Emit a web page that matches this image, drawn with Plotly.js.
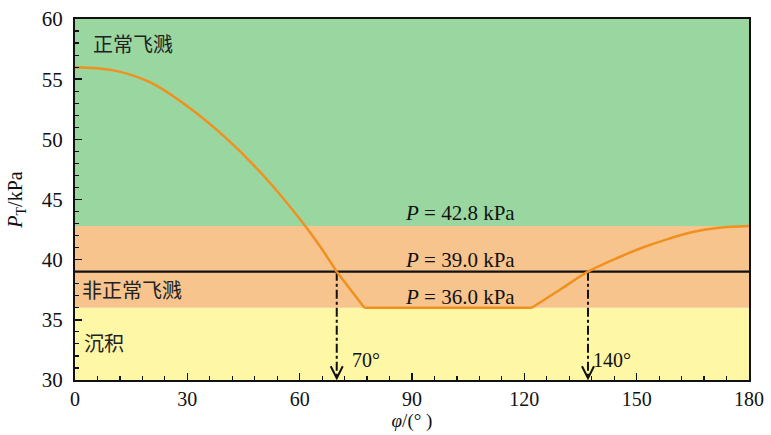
<!DOCTYPE html>
<html><head><meta charset="utf-8">
<script src="https://cdn.plot.ly/plotly-3.0.1.min.js"></script>
<style>html,body{margin:0;padding:0;background:#fff}</style>
</head><body>
<div id="chart" style="width:771px;height:435px"></div>
<script>
// Curve P_T vs phi
const phi = [0, 10, 20, 30, 40, 50, 60, 65, 69.9, 77.3, 122, 130, 137, 145.3, 152, 158.7, 165, 172, 180];
const pT  = [56, 55.75, 54.75, 52.75, 50.2, 47.1, 43.4, 41.3, 39.0, 36.0, 36.0, 37.6, 39.0, 40.2, 41.05, 41.75, 42.3, 42.65, 42.8];
// index ranges of the curve pieces: falling curve, flat bottom, rising curve
const pieceStart = [0, 8, 9, 10];
const pieceEnd   = [8, 9, 10, 18];
const pieceShape = ['spline', 'linear', 'linear', 'spline'];

// Region bands [low, high]
const bandLow  = [30, 36, 42.8];
const bandHigh = [36, 42.8, 60];
const bandColors = ['#fef7a6', '#f8c48e', '#9ad6a0'];
const regionNames = ['沉积', '非正常飞溅', '正常飞溅'];
const regionX = [1.8, 1.3, 4.4];
const regionY = [33.1, 37.5, 58.0];

// Threshold line
const thresholdP = 39.0;
const pLabels = ['<i>P</i> = 42.8 kPa', '<i>P</i> = 39.0 kPa', '<i>P</i> = 36.0 kPa'];
const pLabelY = [43.9, 40.0, 36.9];
const pLabelX = 102.9;

// Critical angles (arrow positions) and labels
const critX = [69.9, 137];
const critLabels = ['70°', '140°'];

const xTicks = [0, 30, 60, 90, 120, 150, 180];
const yTicks = [30, 35, 40, 45, 50, 55, 60];

const serif = 'Liberation Serif, Times New Roman, serif';
const cjk = 'Noto Sans CJK SC, sans-serif';

const traces = [];
critX.forEach(function(cx){
  traces.push({x:[cx, cx], y:[thresholdP, 30.25], mode:'lines', type:'scatter',
    line:{color:'#111', width:2, dash:'dashdot'}, hoverinfo:'skip', showlegend:false});
});
traces.push({x:[0,180], y:[thresholdP, thresholdP], mode:'lines', type:'scatter',
  line:{color:'#111', width:2.2}, showlegend:false, hoverinfo:'skip'});
pieceStart.forEach(function(s, i){
  traces.push({x:phi.slice(s, pieceEnd[i]+1), y:pT.slice(s, pieceEnd[i]+1), mode:'lines', type:'scatter',
    line:{color:'#f0901e', width:2.5, shape:pieceShape[i], smoothing:1}, showlegend:false});
});

const shapes = bandLow.map(function(lo, i){
  return {type:'rect', xref:'paper', yref:'y', x0:0, x1:1, y0:lo, y1:bandHigh[i],
    fillcolor:bandColors[i], line:{width:0}, layer:'below'};
});
critX.forEach(function(cx){
  shapes.push({type:'path', xref:'x', yref:'y', xsizemode:'pixel', ysizemode:'pixel',
    xanchor:cx, yanchor:30.15, path:'M -6 12 L 0 0 L 6 12',
    line:{color:'#111', width:2}, layer:'above'});
});

const annotations = [];
regionNames.forEach(function(t, i){
  annotations.push({x:regionX[i], y:regionY[i], xref:'x', yref:'y', text:t, showarrow:false,
    xanchor:'left', yanchor:'middle', font:{family:cjk, size:20, color:'#222'}});
});
pLabels.forEach(function(t, i){
  annotations.push({x:pLabelX, y:pLabelY[i], xref:'x', yref:'y', text:t, showarrow:false,
    xanchor:'center', yanchor:'middle', font:{family:serif, size:21, color:'#111'}});
});
critLabels.forEach(function(t, i){
  annotations.push({x:critX[i] + (i===0 ? 3.5 : 0.8), y:31.7, xref:'x', yref:'y', text:t, showarrow:false,
    xanchor:'left', yanchor:'middle', font:{family:serif, size:20, color:'#111'}});
});

const layout = {
  width:771, height:435,
  margin:{l:75, r:22, t:19, b:55},
  paper_bgcolor:'#fff', plot_bgcolor:'#fff',
  showlegend:false,
  xaxis:{range:[0,180], tickvals:xTicks, ticks:'inside', ticklen:7, tickwidth:1.5, tickcolor:'#111',
    showgrid:false, zeroline:false, showline:true, linecolor:'#111', linewidth:2, mirror:true,
    minor:{dtick:6, ticks:'inside', ticklen:4, tickwidth:1.2, tickcolor:'#111', showgrid:false},
    tickfont:{family:serif, size:20, color:'#111'},
    title:{text:'<i>φ</i>/(° )', font:{family:serif, size:19, color:'#111'}, standoff:2}},
  yaxis:{range:[30,60], tickvals:yTicks, ticks:'inside', ticklen:7, tickwidth:1.5, tickcolor:'#111',
    showgrid:false, zeroline:false, showline:true, linecolor:'#111', linewidth:2, mirror:true,
    ticklabelstandoff:6,
    minor:{dtick:1, ticks:'inside', ticklen:4, tickwidth:1.2, tickcolor:'#111', showgrid:false},
    tickfont:{family:serif, size:21, color:'#111'},
    title:{text:'<i>P</i><sub>T</sub>/kPa', font:{family:serif, size:20, color:'#111'}, standoff:14}},
  shapes:shapes,
  annotations:annotations
};

Plotly.newPlot('chart', traces, layout, {displayModeBar:false, staticPlot:true});
</script>
</body></html>
